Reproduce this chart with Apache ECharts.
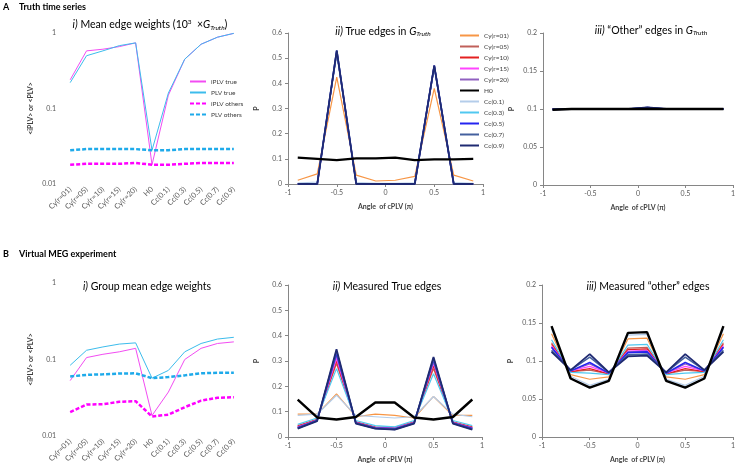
<!DOCTYPE html>
<html>
<head>
<meta charset="utf-8">
<script src="https://cdn.jsdelivr.net/npm/echarts@6/dist/echarts.min.js"></script>
<style>
  html, body { margin: 0; padding: 0; background: #fff; }
  #chart { width: 738px; height: 469px; }
</style>
</head>
<body>
<div id="chart"></div>
<script>
// categories of the mean-weight panels
const cats = ['Cy(r=01)', 'Cy(r=05)', 'Cy(r=10)', 'Cy(r=15)', 'Cy(r=20)', 'H0', 'Cc(0.1)', 'Cc(0.3)', 'Cc(0.5)', 'Cc(0.7)', 'Cc(0.9)']

// A i) mean edge weights (log scale)
const iplvTrueA = [0.24, 0.58, 0.61, 0.66, 0.74, 0.018, 0.15, 0.45, 0.71, 0.88, 0.99]
const plvTrueA = [0.22, 0.5, 0.58, 0.68, 0.74, 0.028, 0.16, 0.45, 0.71, 0.88, 0.99]
const iplvOthersA = [0.018, 0.0185, 0.0185, 0.0185, 0.019, 0.018, 0.018, 0.0185, 0.019, 0.019, 0.019]
const plvOthersA = [0.028, 0.029, 0.029, 0.029, 0.029, 0.028, 0.028, 0.029, 0.029, 0.029, 0.029]

// B i) group mean edge weights (log scale)
const iplvTrueB = [0.053, 0.106, 0.117, 0.126, 0.14, 0.0185, 0.0375, 0.1, 0.14, 0.162, 0.17]
const plvTrueB = [0.084, 0.132, 0.146, 0.159, 0.165, 0.057, 0.072, 0.126, 0.162, 0.185, 0.195]
const iplvOthersB = [0.0205, 0.0258, 0.026, 0.028, 0.0285, 0.018, 0.019, 0.0238, 0.029, 0.0316, 0.0322]
const plvOthersB = [0.06, 0.063, 0.064, 0.0655, 0.066, 0.057, 0.059, 0.062, 0.066, 0.067, 0.067]

// angle bins (x, in units of pi)
const angles = [-0.9, -0.7, -0.5, -0.3, -0.1, 0.1, 0.3, 0.5, 0.7, 0.9]
const condNames = ['Cy(r=01)', 'Cy(r=05)', 'Cy(r=10)', 'Cy(r=15)', 'Cy(r=20)', 'H0', 'Cc(0.1)', 'Cc(0.3)', 'Cc(0.5)', 'Cc(0.7)', 'Cc(0.9)']
const condColors = ['#f79646', '#c0605a', '#e42020', '#ff44ff', '#9060c0', '#000000', '#b4cdea', '#50c8f0', '#2424f0', '#44609e', '#1f2a72']
const condWidths = [1.2, 1.2, 1.2, 1.2, 1.2, 2.4, 1.2, 1.2, 1.6, 1.6, 1.8]

// A ii) true edges in G_Truth, one row per condition
const trueA = [
  [0.015, 0.04, 0.425, 0.035, 0.012, 0.015, 0.03, 0.38, 0.035, 0.012],
  [0.001, 0.002, 0.52, 0.002, 0.001, 0.001, 0.002, 0.465, 0.002, 0.001],
  [0, 0, 0.525, 0, 0, 0, 0, 0.468, 0, 0],
  [0, 0, 0.527, 0, 0, 0, 0, 0.469, 0, 0],
  [0, 0, 0.528, 0, 0, 0, 0, 0.47, 0, 0],
  [0.105, 0.1, 0.095, 0.102, 0.102, 0.105, 0.095, 0.098, 0.098, 0.1],
  [0.004, 0.008, 0.515, 0.006, 0.003, 0.003, 0.005, 0.46, 0.006, 0.003],
  [0.001, 0.002, 0.525, 0.002, 0.001, 0.001, 0.002, 0.467, 0.002, 0.001],
  [0, 0, 0.53, 0, 0, 0, 0, 0.47, 0, 0],
  [0, 0, 0.53, 0, 0, 0, 0, 0.47, 0, 0],
  [0, 0, 0.53, 0, 0, 0, 0, 0.47, 0, 0]
]

// A iii) "other" edges in G_Truth
const otherA = [
  [0.1, 0.1, 0.1, 0.1, 0.1, 0.101, 0.1, 0.1, 0.1, 0.1],
  [0.1, 0.1, 0.1, 0.1, 0.1, 0.101, 0.1, 0.1, 0.1, 0.1],
  [0.1005, 0.1, 0.1, 0.1, 0.1, 0.101, 0.1, 0.1, 0.1, 0.1],
  [0.1, 0.1, 0.1, 0.1, 0.1, 0.101, 0.1, 0.1, 0.1, 0.1],
  [0.1, 0.1, 0.1, 0.1, 0.1, 0.101, 0.1, 0.1, 0.1, 0.1],
  [0.099, 0.1, 0.1, 0.1, 0.1, 0.1, 0.1, 0.1, 0.1, 0.1],
  [0.0995, 0.1, 0.1, 0.1, 0.1, 0.102, 0.1, 0.1, 0.1, 0.1],
  [0.0995, 0.1, 0.1, 0.1, 0.1, 0.102, 0.1, 0.1, 0.1, 0.1],
  [0.0995, 0.1, 0.1, 0.1, 0.1, 0.102, 0.1, 0.1, 0.1, 0.1],
  [0.0995, 0.1, 0.1, 0.1, 0.1, 0.102, 0.1, 0.1, 0.1, 0.1],
  [0.0995, 0.1, 0.1, 0.1, 0.1, 0.102, 0.1, 0.1, 0.1, 0.1]
]

// B ii) measured true edges
const trueB = [
  [0.09, 0.09, 0.17, 0.08, 0.09, 0.085, 0.075, 0.16, 0.085, 0.085],
  [0.045, 0.07, 0.29, 0.06, 0.04, 0.038, 0.06, 0.27, 0.06, 0.04],
  [0.042, 0.068, 0.3, 0.058, 0.038, 0.036, 0.058, 0.28, 0.058, 0.038],
  [0.04, 0.067, 0.31, 0.057, 0.037, 0.035, 0.057, 0.29, 0.057, 0.036],
  [0.038, 0.066, 0.32, 0.056, 0.036, 0.034, 0.056, 0.295, 0.056, 0.035],
  [0.148, 0.077, 0.069, 0.079, 0.136, 0.136, 0.077, 0.069, 0.079, 0.148],
  [0.085, 0.09, 0.165, 0.085, 0.08, 0.075, 0.08, 0.16, 0.09, 0.08],
  [0.05, 0.075, 0.27, 0.065, 0.045, 0.04, 0.065, 0.25, 0.065, 0.045],
  [0.037, 0.065, 0.33, 0.055, 0.035, 0.032, 0.055, 0.305, 0.055, 0.033],
  [0.035, 0.064, 0.34, 0.054, 0.034, 0.03, 0.054, 0.31, 0.054, 0.031],
  [0.033, 0.063, 0.346, 0.053, 0.033, 0.029, 0.053, 0.316, 0.053, 0.029]
]

// B iii) measured "other" edges
const otherB = [
  [0.136, 0.082, 0.076, 0.079, 0.129, 0.13, 0.079, 0.076, 0.082, 0.136],
  [0.124, 0.086, 0.088, 0.083, 0.117, 0.118, 0.083, 0.088, 0.086, 0.124],
  [0.122, 0.086, 0.09, 0.083, 0.115, 0.116, 0.083, 0.09, 0.086, 0.122],
  [0.12, 0.087, 0.093, 0.084, 0.113, 0.114, 0.084, 0.093, 0.087, 0.12],
  [0.118, 0.087, 0.096, 0.084, 0.112, 0.113, 0.084, 0.096, 0.087, 0.118],
  [0.146, 0.077, 0.065, 0.074, 0.137, 0.138, 0.074, 0.065, 0.077, 0.146],
  [0.142, 0.08, 0.068, 0.076, 0.134, 0.135, 0.076, 0.068, 0.08, 0.142],
  [0.128, 0.085, 0.084, 0.082, 0.121, 0.122, 0.082, 0.084, 0.085, 0.128],
  [0.118, 0.087, 0.098, 0.084, 0.111, 0.112, 0.084, 0.098, 0.087, 0.118],
  [0.114, 0.088, 0.105, 0.085, 0.108, 0.109, 0.085, 0.105, 0.088, 0.114],
  [0.112, 0.088, 0.109, 0.085, 0.106, 0.107, 0.085, 0.109, 0.088, 0.112]
]

const FONT = 'Lato, "Open Sans", sans-serif'
const AXIS_COLOR = '#868686'
const LABEL_COLOR = '#595959'
const PINK = '#f24cf2'
const CYAN = '#3cbcec'

const chart = echarts.init(document.getElementById('chart'))

const grids = [
  { left: 62, top: 33, width: 180, height: 151 },
  { left: 288, top: 33, width: 195, height: 151 },
  { left: 543, top: 33, width: 190, height: 152 },
  { left: 62, top: 283, width: 180, height: 153 },
  { left: 288, top: 285, width: 194, height: 152 },
  { left: 542, top: 285, width: 191, height: 152 }
]

const baseAxis = {
  axisLine: { onZero: false, lineStyle: { color: AXIS_COLOR } },
  axisTick: { length: 3, lineStyle: { color: AXIS_COLOR } },
  axisLabel: { fontSize: 7, color: LABEL_COLOR, fontFamily: FONT },
  splitLine: { show: false },
  nameTextStyle: { fontSize: 7, fontWeight: 'bold', color: '#404040', fontFamily: FONT }
}

const catAxis = gi => ({
  ...baseAxis,
  type: 'category',
  gridIndex: gi,
  data: cats,
  boundaryGap: true,
  axisLine: { show: false },
  axisTick: { show: false },
  axisLabel: { ...baseAxis.axisLabel, fontSize: 7.5, rotate: 45, margin: 4, interval: 0 }
})

const angleAxis = gi => ({
  ...baseAxis,
  type: 'value',
  gridIndex: gi,
  min: -1,
  max: 1,
  interval: 0.5,
  name: 'Angle  of cPLV (π)',
  nameLocation: 'middle',
  nameGap: 19,
  axisLabel: { ...baseAxis.axisLabel, margin: 5 }
})

const logAxis = gi => ({
  ...baseAxis,
  type: 'log',
  logBase: 10,
  gridIndex: gi,
  min: 0.01,
  max: 1,
  name: '<iPLV> or <PLV>',
  nameLocation: 'middle',
  nameGap: 28,
  axisLabel: { ...baseAxis.axisLabel, margin: 6 }
})

const pAxis = (gi, max, interval) => ({
  ...baseAxis,
  type: 'value',
  gridIndex: gi,
  min: 0,
  max: max,
  interval: interval,
  name: 'P',
  nameLocation: 'middle',
  nameGap: 28,
  axisLabel: { ...baseAxis.axisLabel, margin: 6 }
})

const meanSeries = (gi, iplvT, plvT, iplvO, plvO) => [
  { name: 'iPLV true', data: iplvT, color: PINK, lineStyle: { width: 1, color: PINK } },
  { name: 'PLV true', data: plvT, color: CYAN, lineStyle: { width: 1, color: CYAN } },
  { name: 'iPLV others', data: iplvO, color: '#ff00ff', lineStyle: { width: 2.5, type: [4, 2], color: '#ff00ff' } },
  { name: 'PLV others', data: plvO, color: '#1eaaea', lineStyle: { width: 2.5, type: [4, 2], color: '#1eaaea' } }
].map(s => ({
  ...s,
  type: 'line',
  xAxisIndex: gi,
  yAxisIndex: gi,
  symbol: 'none',
  itemStyle: { color: s.color }
}))

const angleSeries = (gi, rows) => rows.map((vals, k) => ({
  name: condNames[k],
  type: 'line',
  xAxisIndex: gi,
  yAxisIndex: gi,
  symbol: 'none',
  data: angles.map((a, i) => [a, vals[i]]),
  itemStyle: { color: condColors[k] },
  lineStyle: { width: condWidths[k], color: condColors[k] },
  z: k === 5 ? 3 : 2
}))

const titleRich = {
  it: { fontStyle: 'italic', fontSize: 10.5, fontFamily: FONT, fill: '#000' },
  sup: { fontSize: 6.5, fontFamily: FONT, verticalAlign: 'top', padding: [0, 0, 6, 0] },
  sub: { fontSize: 6.5, fontStyle: 'italic', fontFamily: FONT, verticalAlign: 'bottom', padding: [4, 0, 0, 0] }
}

const titleText = (x, y, text) => ({
  type: 'text',
  x: x,
  y: y,
  style: {
    text: text,
    align: 'center',
    verticalAlign: 'middle',
    fontSize: 10.5,
    fontFamily: FONT,
    fill: '#000',
    rich: titleRich
  }
})

const panelLabel = (y, letter, text) => [
  { type: 'text', x: 3, y: y, style: { text: letter, fontSize: 9, fontWeight: 'bold', fontFamily: FONT, fill: '#000', verticalAlign: 'middle' } },
  { type: 'text', x: 19, y: y, style: { text: text, fontSize: 9, fontWeight: 'bold', fontFamily: FONT, fill: '#000', verticalAlign: 'middle' } }
]

// legend entries drawn as plain line samples (hide the marker)
const hiddenMarker = { color: 'rgba(0,0,0,0)', borderWidth: 0, opacity: 0 }

const option = {
  animation: false,
  backgroundColor: '#fff',
  grid: grids,
  xAxis: [catAxis(0), angleAxis(1), angleAxis(2), catAxis(3), angleAxis(4), angleAxis(5)],
  yAxis: [logAxis(0), pAxis(1, 0.6, 0.1), pAxis(2, 0.2, 0.05), logAxis(3), pAxis(4, 0.6, 0.1), pAxis(5, 0.2, 0.05)],
  legend: [
    {
      data: ['iPLV true', 'PLV true', 'iPLV others', 'PLV others'],
      orient: 'vertical',
      left: 184,
      top: 73,
      itemWidth: 16,
      itemHeight: 6,
      itemGap: 4,
      itemStyle: hiddenMarker,
      textStyle: { fontSize: 6.5, color: '#404040', fontFamily: FONT }
    },
    {
      data: condNames,
      orient: 'vertical',
      left: 454,
      top: 27,
      itemWidth: 19,
      itemHeight: 8,
      itemGap: 4,
      itemStyle: hiddenMarker,
      textStyle: { fontSize: 6.5, color: '#404040', fontFamily: FONT }
    }
  ],
  graphic: [
    ...panelLabel(7, 'A', 'Truth time series'),
    ...panelLabel(254, 'B', 'Virtual MEG experiment'),
    titleText(150, 25, '{it|i)} Mean edge weights (10{sup|3}  ×{it|G}{sub|Truth})'),
    titleText(383, 32, '{it|ii)} True edges in {it|G}{sub|Truth}'),
    titleText(651, 31, '{it|iii)} “Other” edges in {it|G}{sub|Truth}'),
    titleText(147, 287, '{it|i)} Group mean edge weights'),
    titleText(387, 287, '{it|ii)} Measured True edges'),
    titleText(648, 287, '{it|iii)} Measured “other” edges')
  ],
  series: [
    ...meanSeries(0, iplvTrueA, plvTrueA, iplvOthersA, plvOthersA),
    ...angleSeries(1, trueA),
    ...angleSeries(2, otherA),
    ...meanSeries(3, iplvTrueB, plvTrueB, iplvOthersB, plvOthersB),
    ...angleSeries(4, trueB),
    ...angleSeries(5, otherB)
  ]
}

chart.setOption(option)
window.addEventListener('resize', () => chart.resize())
</script>
</body>
</html>
